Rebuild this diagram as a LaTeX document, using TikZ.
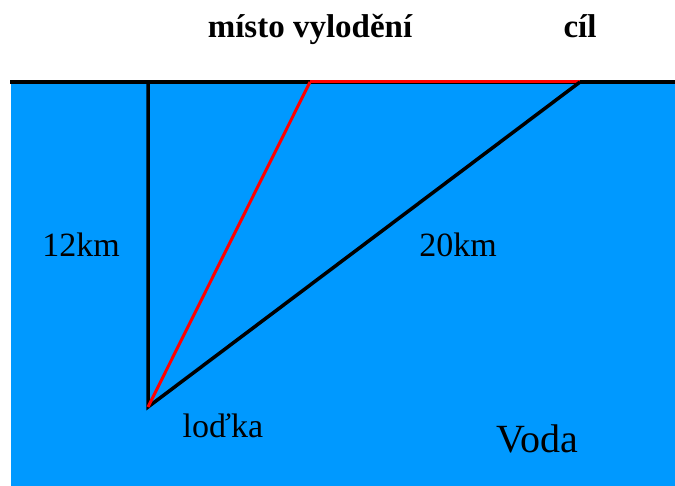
\documentclass[tikz,border=0pt]{standalone}
\usepackage{fontspec}
\setmainfont{Liberation Serif}
\usepackage{tikz}
\usetikzlibrary{positioning}
\definecolor{water}{RGB}{0,153,255}
\tikzset{
    shore/.style={line width=4pt},
    route/.style={red,line width=3pt},
    head label/.style={anchor=base,font=\bfseries\fontsize{33}{36}\selectfont},
    sea label/.style={anchor=base,font=\fontsize{34}{38}\selectfont}
}
\begin{document}
\begin{tikzpicture}[x=1pt,y=-1pt]
\useasboundingbox (0,0) rectangle (675,486);
\fill[water] (11,82) rectangle (675,486);
\coordinate (left) at (10,82);
\coordinate (right) at (675,82);
\coordinate (foot) at (148,82);
\coordinate (landing) at (310,82);
\coordinate (goal) at (580,82);
\coordinate (boat) at (148,407);
\draw[shore] (left) -- (right);
\draw[route] (landing) -- (goal);
\draw[line width=3.5pt,line join=miter] (foot) -- (boat) -- (goal);
\draw[route] (boat) -- (landing);
\node[head label] (landing label) at (310,38) {místo vylodění};
\node[head label] (goal label) at (580,38) {cíl};
\node[sea label] (short) at (81,257) {12km};
\node[sea label] (long) at (458,257) {20km};
\node[sea label] (boat label) at (223,437) {loďka};
\node[sea label,font=\fontsize{40}{44}\selectfont] (water label) at (537,452) {Voda};
\end{tikzpicture}
\end{document}
